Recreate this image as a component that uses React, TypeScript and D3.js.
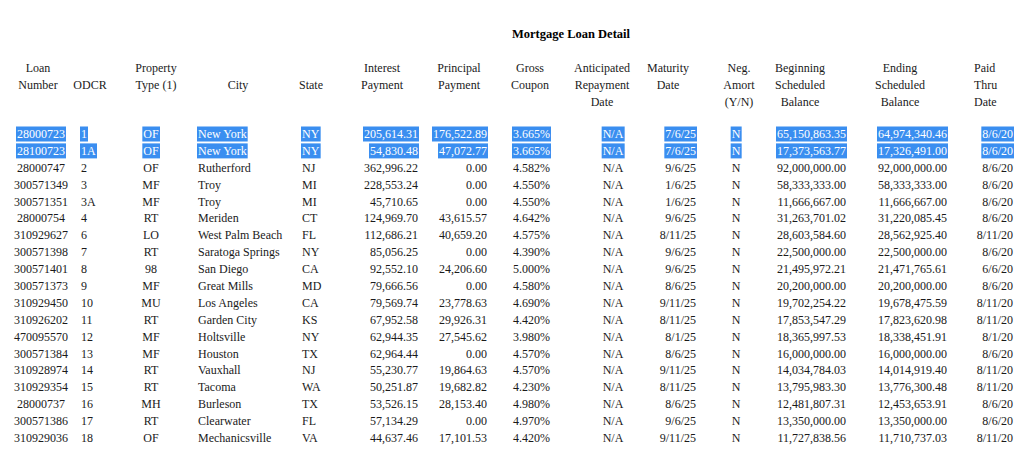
import { useEffect, useRef } from "react";
import * as d3 from "d3";

// table values, top to bottom
const loanNumbers = ["28000723", "28100723", "28000747", "300571349", "300571351", "28000754", "310929627", "300571398", "300571401", "300571373", "310929450", "310926202", "470095570", "300571384", "310928974", "310929354", "28000737", "300571386", "310929036"];
const odcr = ["1", "1A", "2", "3", "3A", "4", "6", "7", "8", "9", "10", "11", "12", "13", "14", "15", "16", "17", "18"];
const propertyTypes = ["OF", "OF", "OF", "MF", "MF", "RT", "LO", "RT", "98", "MF", "MU", "RT", "MF", "MF", "RT", "RT", "MH", "RT", "OF"];
const cities = ["New York", "New York", "Rutherford", "Troy", "Troy", "Meriden", "West Palm Beach", "Saratoga Springs", "San Diego", "Great Mills", "Los Angeles", "Garden City", "Holtsville", "Houston", "Vauxhall", "Tacoma", "Burleson", "Clearwater", "Mechanicsville"];
const states = ["NY", "NY", "NJ", "MI", "MI", "CT", "FL", "NY", "CA", "MD", "CA", "KS", "NY", "TX", "NJ", "WA", "TX", "FL", "VA"];
const interestPayments = [205614.31, 54830.48, 362996.22, 228553.24, 45710.65, 124969.7, 112686.21, 85056.25, 92552.1, 79666.56, 79569.74, 67952.58, 62944.35, 62964.44, 55230.77, 50251.87, 53526.15, 57134.29, 44637.46];
const principalPayments = [176522.89, 47072.77, 0, 0, 0, 43615.57, 40659.2, 0, 24206.6, 0, 23778.63, 29926.31, 27545.62, 0, 19864.63, 19682.82, 28153.4, 0, 17101.53];
const grossCoupons = [3.665, 3.665, 4.582, 4.55, 4.55, 4.642, 4.575, 4.39, 5.0, 4.58, 4.69, 4.42, 3.98, 4.57, 4.57, 4.23, 4.98, 4.97, 4.42];
const anticipatedDates = ["N/A", "N/A", "N/A", "N/A", "N/A", "N/A", "N/A", "N/A", "N/A", "N/A", "N/A", "N/A", "N/A", "N/A", "N/A", "N/A", "N/A", "N/A", "N/A"];
const maturityDates = ["7/6/25", "7/6/25", "9/6/25", "1/6/25", "1/6/25", "9/6/25", "8/11/25", "9/6/25", "9/6/25", "8/6/25", "9/11/25", "8/11/25", "8/1/25", "8/6/25", "9/11/25", "8/11/25", "8/6/25", "9/6/25", "9/11/25"];
const negAmort = ["N", "N", "N", "N", "N", "N", "N", "N", "N", "N", "N", "N", "N", "N", "N", "N", "N", "N", "N"];
const beginningBalances = [65150863.35, 17373563.77, 92000000, 58333333, 11666667, 31263701.02, 28603584.6, 22500000, 21495972.21, 20200000, 19702254.22, 17853547.29, 18365997.53, 16000000, 14034784.03, 13795983.3, 12481807.31, 13350000, 11727838.56];
const endingBalances = [64974340.46, 17326491.0, 92000000, 58333333, 11666667, 31220085.45, 28562925.4, 22500000, 21471765.61, 20200000, 19678475.59, 17823620.98, 18338451.91, 16000000, 14014919.4, 13776300.48, 12453653.91, 13350000, 11710737.03];
const paidThruDates = ["8/6/20", "8/6/20", "8/6/20", "8/6/20", "8/6/20", "8/6/20", "8/11/20", "8/6/20", "6/6/20", "8/6/20", "8/11/20", "8/11/20", "8/1/20", "8/6/20", "8/11/20", "8/11/20", "8/6/20", "8/6/20", "8/11/20"];
// rows that show as selected text
const selectedRows = [0, 1];

const money = d3.format(",.2f");
const pct = (v: number) => d3.format(".3f")(v) + "%";

type Col = {
  head: string[];
  hx: number;
  hAnchor: string;
  cells: string[];
  x: number;
  anchor: string;
};

const columns: Col[] = [
  { head: ["Loan", "Number"], hx: 38, hAnchor: "middle", cells: loanNumbers, x: 41, anchor: "middle" },
  { head: ["", "ODCR"], hx: 90, hAnchor: "middle", cells: odcr, x: 81, anchor: "start" },
  { head: ["Property", "Type (1)"], hx: 156, hAnchor: "middle", cells: propertyTypes, x: 151, anchor: "middle" },
  { head: ["", "City"], hx: 238, hAnchor: "middle", cells: cities, x: 198, anchor: "start" },
  { head: ["", "State"], hx: 311, hAnchor: "middle", cells: states, x: 302, anchor: "start" },
  { head: ["Interest", "Payment"], hx: 382, hAnchor: "middle", cells: interestPayments.map(money), x: 418, anchor: "end" },
  { head: ["Principal", "Payment"], hx: 459, hAnchor: "middle", cells: principalPayments.map(money), x: 487, anchor: "end" },
  { head: ["Gross", "Coupon"], hx: 530, hAnchor: "middle", cells: grossCoupons.map(pct), x: 550, anchor: "end" },
  { head: ["Anticipated", "Repayment", "Date"], hx: 602, hAnchor: "middle", cells: anticipatedDates, x: 613, anchor: "middle" },
  { head: ["Maturity", "Date"], hx: 668, hAnchor: "middle", cells: maturityDates, x: 696, anchor: "end" },
  { head: ["Neg.", "Amort", "(Y/N)"], hx: 739, hAnchor: "middle", cells: negAmort, x: 736, anchor: "middle" },
  { head: ["Beginning", "Scheduled", "Balance"], hx: 800, hAnchor: "middle", cells: beginningBalances.map(money), x: 846, anchor: "end" },
  { head: ["Ending", "Scheduled", "Balance"], hx: 900, hAnchor: "middle", cells: endingBalances.map(money), x: 947, anchor: "end" },
  { head: ["Paid", "Thru", "Date"], hx: 974, hAnchor: "start", cells: paidThruDates, x: 1013, anchor: "end" },
];

const W = 1034;
const H = 450;
const FONT = "'Liberation Serif', 'Times New Roman', serif";

export default function App() {
  const ref = useRef<SVGSVGElement>(null);

  useEffect(() => {
    const svg = d3.select(ref.current);
    svg.selectAll("*").remove();

    const n = loanNumbers.length;
    // row baselines
    const y = d3.scaleLinear().domain([0, n - 1]).range([138, 442]);
    // header line baselines
    const hy = d3.scaleLinear().domain([0, 2]).range([72, 106]);

    svg
      .append("text")
      .attr("x", 571)
      .attr("y", 38)
      .attr("text-anchor", "middle")
      .attr("font-weight", "bold")
      .attr("font-size", 12.5)
      .text("Mortgage Loan Detail");

    const head = svg.append("g").attr("fill", "#1a1a1a");
    columns.forEach((c) => {
      c.head.forEach((line, i) => {
        if (!line) return;
        head
          .append("text")
          .attr("x", c.hx)
          .attr("y", hy(i))
          .attr("text-anchor", c.hAnchor)
          .text(line);
      });
    });

    const hl = svg.append("g");
    const body = svg.append("g");
    columns.forEach((c) => {
      c.cells.forEach((v, i) => {
        const sel = selectedRows.includes(i);
        const t = body
          .append("text")
          .attr("x", c.x)
          .attr("y", y(i))
          .attr("text-anchor", c.anchor)
          .attr("fill", sel ? "#fff" : "#1a1a1a")
          .text(v);
        if (sel) {
          const b = (t.node() as SVGTextElement).getBBox();
          hl.append("rect")
            .attr("x", b.x - 1)
            .attr("y", y(i) - 11.5)
            .attr("width", b.width + 2)
            .attr("height", 15)
            .attr("fill", "#3a8ef0");
        }
      });
    });
  }, []);

  return (
    <svg
      ref={ref}
      width={W}
      height={H}
      style={{ position: "absolute", left: 0, top: 0, background: "#fff" }}
      fontFamily={FONT}
      fontSize={12}
    />
  );
}
